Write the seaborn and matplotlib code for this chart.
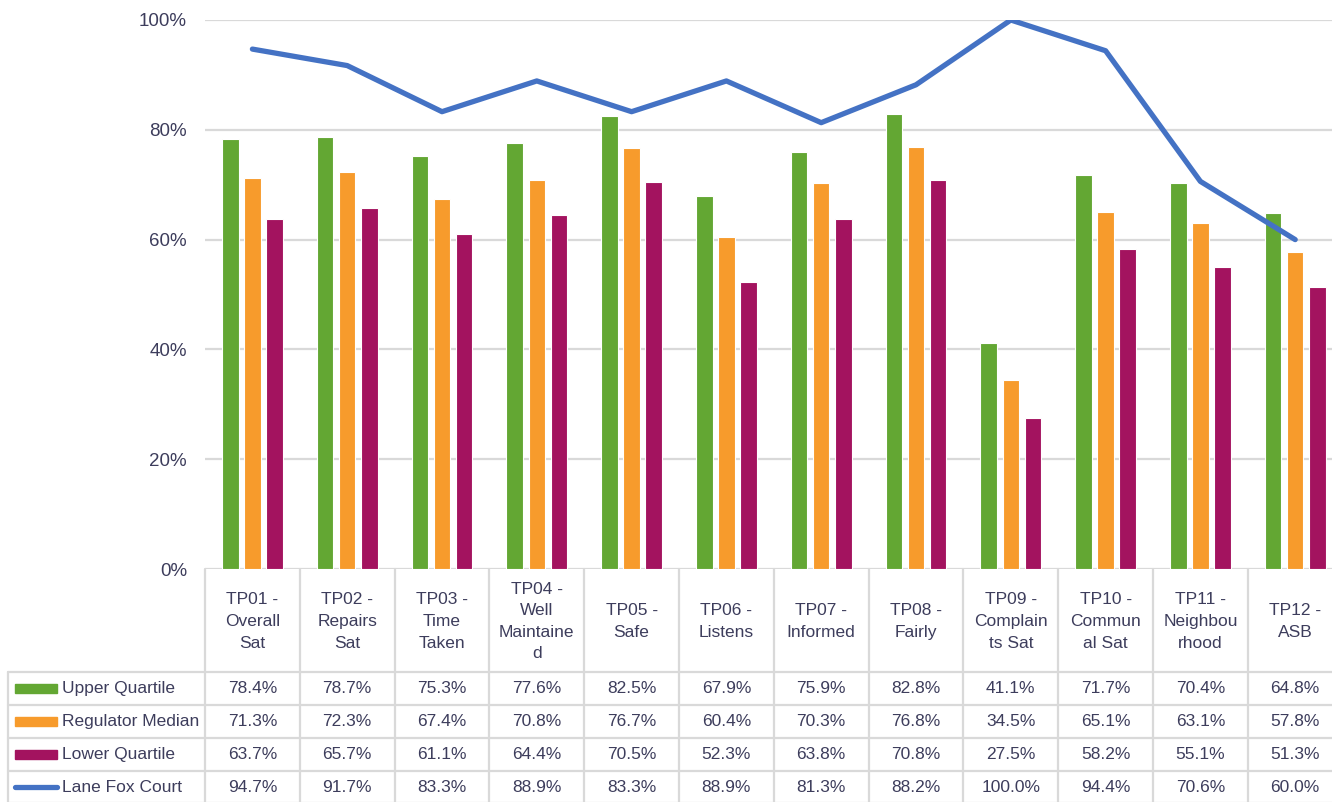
import numpy as np
import pandas as pd
import matplotlib
matplotlib.use('Agg')
import matplotlib.pyplot as plt
import seaborn as sns

# --- dados ---
categorias = ['TP01 -\nOverall\nSat', 'TP02 -\nRepairs\nSat', 'TP03 -\nTime\nTaken',
              'TP04 -\nWell\nMaintaine\nd', 'TP05 -\nSafe', 'TP06 -\nListens',
              'TP07 -\nInformed', 'TP08 -\nFairly', 'TP09 -\nComplain\nts Sat',
              'TP10 -\nCommun\nal Sat', 'TP11 -\nNeighbou\nrhood', 'TP12 -\nASB']
upper_quartile = [78.4, 78.7, 75.3, 77.6, 82.5, 67.9, 75.9, 82.8, 41.1, 71.7, 70.4, 64.8]
regulator_median = [71.3, 72.3, 67.4, 70.8, 76.7, 60.4, 70.3, 76.8, 34.5, 65.1, 63.1, 57.8]
lower_quartile = [63.7, 65.7, 61.1, 64.4, 70.5, 52.3, 63.8, 70.8, 27.5, 58.2, 55.1, 51.3]
lane_fox_court = [94.7, 91.7, 83.3, 88.9, 83.3, 88.9, 81.3, 88.2, 100.0, 94.4, 70.6, 60.0]
series_barras = ['Upper Quartile', 'Regulator Median', 'Lower Quartile']
serie_linha = 'Lane Fox Court'
yticks = [0, 20, 40, 60, 80, 100]

cores = {'Upper Quartile': '#63a733', 'Regulator Median': '#f79b2c',
         'Lower Quartile': '#a3135f', 'Lane Fox Court': '#4472c4'}
cor_texto = '#3d3d5c'
cor_grade = '#d9d9d9'
fs = 12.5

df = pd.DataFrame({'cat': categorias,
                   'Upper Quartile': upper_quartile,
                   'Regulator Median': regulator_median,
                   'Lower Quartile': lower_quartile})
df_long = df.melt(id_vars='cat', var_name='serie', value_name='valor')
df_long['valor'] = df_long['valor'] / 100

# --- figura ---
sns.set_theme(style='white')
plt.rcParams['font.family'] = ['Liberation Sans', 'DejaVu Sans']

W, H = 1332, 802
fig = plt.figure(figsize=(W / 100, H / 100), dpi=100)

x_esq, col_w = 205, 94.8
y_zero, y_cem = 569, 20
n = len(categorias)
ax = fig.add_axes([x_esq / W, (H - y_zero) / H, n * col_w / W, (y_zero - y_cem) / H])

sns.barplot(data=df_long, x='cat', y='valor', hue='serie', hue_order=series_barras,
            palette=cores, saturation=1, width=0.7, gap=0.25, edgecolor='white',
            linewidth=0.8, legend=False, ax=ax, zorder=3)
sns.lineplot(x=np.arange(n), y=np.array(lane_fox_court) / 100, color=cores[serie_linha],
             linewidth=3.8, ax=ax, zorder=4, solid_capstyle='round')

ax.set_xlim(-0.5, n - 0.5)
ax.set_ylim(0, 1)
ax.set_yticks([v / 100 for v in yticks])
ax.set_yticklabels([f'{v}%' for v in yticks], fontsize=13.5, color=cor_texto)
ax.set_xticks(range(n))
ax.set_xticklabels([])
ax.tick_params(axis='both', length=0)
ax.tick_params(axis='y', pad=13)
ax.set_xlabel('')
ax.set_ylabel('')
for s in ax.spines.values():
    s.set_visible(False)
ax.grid(axis='y', color=cor_grade, linewidth=1.6, zorder=0)
ax.set_axisbelow(True)
ax.patch.set_alpha(0)

# --- tabela de dados ---
tab = fig.add_axes([0, 0, 1, 1], zorder=-1)
tab.set_xlim(0, W)
tab.set_ylim(H, 0)
tab.axis('off')

linhas_y = [672, 705, 738, 771, 803]
x_tab = 8
x_dir = x_esq + n * col_w
for i in range(n + 1):
    xv = x_esq + i * col_w
    tab.plot([xv, xv], [y_zero, H + 2], color=cor_grade, linewidth=1.6)
tab.plot([x_tab, x_tab], [linhas_y[0], H + 2], color=cor_grade, linewidth=1.6)
for yl in linhas_y:
    tab.plot([x_tab, x_dir], [yl, yl], color=cor_grade, linewidth=1.6)

for i, cat in enumerate(categorias):
    xc = x_esq + (i + 0.5) * col_w
    tab.text(xc, (y_zero + linhas_y[0]) / 2 + 1, cat, ha='center', va='center',
             fontsize=fs, color=cor_texto, linespacing=1.55)

valores = [upper_quartile, regulator_median, lower_quartile, lane_fox_court]
nomes = series_barras + [serie_linha]
for r, (nome, vals) in enumerate(zip(nomes, valores)):
    yc = (linhas_y[r] + linhas_y[r + 1]) / 2
    if nome == serie_linha:
        tab.plot([15, 57], [yc, yc], color=cores[nome], linewidth=3.8, solid_capstyle='round')
    else:
        tab.add_patch(plt.Rectangle((15, yc - 4.5), 42, 9, color=cores[nome]))
    tab.text(62, yc, nome, ha='left', va='center', fontsize=fs, color=cor_texto)
    for i, v in enumerate(vals):
        xc = x_esq + (i + 0.5) * col_w
        tab.text(xc, yc, f'{v:.1f}%', ha='center', va='center', fontsize=fs, color=cor_texto)

fig.savefig('out.png', dpi=100)
